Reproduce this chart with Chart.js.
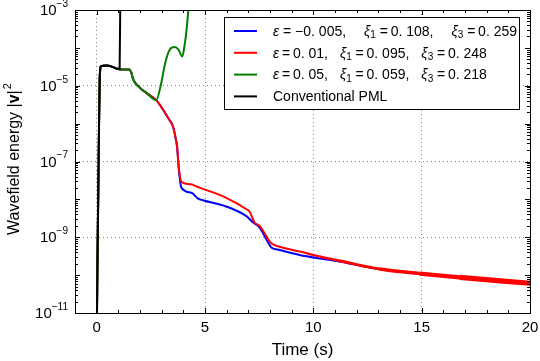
<!DOCTYPE html>
<html>
<head>
<meta charset="utf-8">
<script src="https://cdn.jsdelivr.net/npm/chart.js@4.4.0/dist/chart.umd.min.js"></script>
<style>
  html, body { margin: 0; padding: 0; background: #fff; }
  #wrap { width: 540px; height: 361px; }
</style>
</head>
<body>
<div id="wrap"><canvas id="myChart" width="540" height="361"></canvas></div>
<script>
// time (s) and wavefield energy
var tBlack = [0, 0.03, 0.07, 0.11, 0.14, 0.2, 0.45, 0.7, 0.95, 1.06, 1.1];
var eBlack = [1e-12, 1e-10, 1e-8, 1e-6, 1.5e-5, 3.3e-5, 3.4e-5, 3.2e-5, 2.8e-5, 2.8e-5, 1e-2];

var tRed = [0, 0.03, 0.07, 0.11, 0.14, 0.2, 0.45, 0.7, 0.95, 1.1, 1.52, 1.6, 1.68, 1.98, 2.29, 2.78, 3.06, 3.3, 3.52, 3.65, 3.71, 3.8, 3.91,
    4.37, 4.6, 4.9, 5.98, 6.91, 7.06, 7.29, 7.52, 7.83, 8.06, 8.45, 9.37, 10.29, 11.2, 13.06, 14.9, 16.75, 20];
var eRed = [1e-12, 1e-10, 1e-8, 1e-6, 1.5e-5, 3.3e-5, 3.4e-5, 3.2e-5, 2.8e-5, 2.7e-5, 2.7e-5, 2.2e-5, 1.5e-5, 9e-6, 6.5e-6, 4.0e-6, 2.35e-6, 1.4e-6, 8.5e-7, 4e-7, 2.5e-7, 6.2e-8, 2.9e-8,
    2.5e-8, 2.2e-8, 1.9e-8, 1.1e-8, 5.5e-9, 4.7e-9, 2.45e-9, 2.0e-9, 1.07e-9, 6.9e-10, 5.6e-10, 4.2e-10, 3.1e-10, 2.4e-10, 1.45e-10, 1.1e-10, 8.7e-11, 6.1e-11];

var tBlue = [0, 0.03, 0.07, 0.11, 0.14, 0.2, 0.45, 0.7, 0.95, 1.1, 1.52, 1.6, 1.68, 1.98, 2.29, 2.78, 3.06, 3.3, 3.52, 3.65, 3.71, 3.8, 3.91,
    4.37, 4.68, 4.9, 5.98, 6.91, 7.22, 7.52, 7.83, 8.06, 8.45, 9.37, 10.29, 11.2, 13.06, 14.9, 16.75, 20];
var eBlue = [1e-12, 1e-10, 1e-8, 1e-6, 1.5e-5, 3.3e-5, 3.4e-5, 3.2e-5, 2.8e-5, 2.7e-5, 2.7e-5, 2.2e-5, 1.5e-5, 9e-6, 6.5e-6, 4.0e-6, 2.35e-6, 1.4e-6, 8.5e-7, 4e-7, 2.5e-7, 5.5e-8, 2.04e-8,
    1.5e-8, 1.05e-8, 9.5e-9, 6.5e-9, 3.6e-9, 2.45e-9, 1.8e-9, 8.9e-10, 5.4e-10, 4.6e-10, 3.4e-10, 2.75e-10, 2.3e-10, 1.42e-10, 1.08e-10, 8.5e-11, 6.0e-11];

var tGreen = [0, 0.03, 0.07, 0.11, 0.14, 0.2, 0.45, 0.7, 0.95, 1.1, 1.52, 1.6, 1.68, 1.98, 2.29, 2.75, 2.98, 3.14, 3.37, 3.6, 3.78, 3.95, 4.06, 4.15, 4.3];
var eGreen = [1e-12, 1e-10, 1e-8, 1e-6, 1.5e-5, 3.3e-5, 3.4e-5, 3.2e-5, 2.8e-5, 2.7e-5, 2.7e-5, 2.2e-5, 1.5e-5, 8.9e-6, 6.5e-6, 4.2e-6, 1.17e-5, 3.5e-5, 8.9e-5, 1.05e-4, 8.9e-5, 5.9e-5, 1.2e-4, 3e-4, 3e-3];

var xTicks = [0, 5, 10, 15, 20];
var yTicks = [1e-11, 1e-9, 1e-7, 1e-5, 1e-3];

var legendRows = [
    [{t: "ε", it: true}, {t: " = −0. 005,"}, {gap: 18}, {t: "ξ", it: true}, {t: "1", sub: true}, {t: "\u2009=\u20090. 108,"}, {gap: 18}, {t: "ξ", it: true}, {t: "3", sub: true}, {t: "\u2009=\u20090. 259"}],
    [{t: "ε", it: true}, {t: "\u2009=\u20090. 01,"}, {gap: 12}, {t: "ξ", it: true}, {t: "1", sub: true}, {t: "\u2009=\u20090. 095,"}, {gap: 12}, {t: "ξ", it: true}, {t: "3", sub: true}, {t: "\u2009=\u20090. 248"}],
    [{t: "ε", it: true}, {t: "\u2009=\u20090. 05,"}, {gap: 12}, {t: "ξ", it: true}, {t: "1", sub: true}, {t: "\u2009=\u20090. 059,"}, {gap: 12}, {t: "ξ", it: true}, {t: "3", sub: true}, {t: "\u2009=\u20090. 218"}],
    [{t: "Conventional PML"}]
];
var legendColors = ["#0000ff", "#ff0000", "#008000", "#000000"];

var FONT = "'Liberation Sans', Arial, sans-serif";

function toPoints(ts, es) {
    return ts.map(function (t, i) { return {x: t, y: es[i]}; });
}

function drawSegments(ctx, x, y, segs, size) {
    segs.forEach(function (s) {
        if (s.gap) {
            x += s.gap;
            return;
        }
        if (s.sub) {
            ctx.font = Math.round(size * 0.7) + "px " + FONT;
            ctx.fillText(s.t, x, y + size * 0.25);
        } else {
            ctx.font = (s.it ? "italic " : "") + size + "px " + FONT;
            ctx.fillText(s.t, x, y);
        }
        x += ctx.measureText(s.t).width + (s.sub ? 1 : 0);
    });
    return x;
}

var decorPlugin = {
    id: "decor",
    afterDatasetsDraw: function (chart) {
        var ctx = chart.ctx;
        var a = chart.chartArea;
        var xs = chart.scales.x, ys = chart.scales.y;
        ctx.save();
        ctx.strokeStyle = "#000";
        ctx.lineWidth = 1;
        ctx.beginPath();
        // x ticks, inward, bottom and top
        for (var v = -1; v <= 20; v++) {
            var px = Math.round(xs.getPixelForValue(v)) + 0.5;
            var len = (v % 5 === 0) ? 5 : 3;
            ctx.moveTo(px, a.bottom); ctx.lineTo(px, a.bottom - len);
            ctx.moveTo(px, a.top); ctx.lineTo(px, a.top + len);
        }
        // y ticks, decades and 2..9 minors
        for (var p = -11; p <= -3; p++) {
            for (var m = 1; m <= 9; m++) {
                var val = m * Math.pow(10, p);
                if (val > 1e-3) break;
                var py = Math.round(ys.getPixelForValue(val)) + 0.5;
                var l2 = (m === 1) ? 5 : 3;
                ctx.moveTo(a.left, py); ctx.lineTo(a.left + l2, py);
                ctx.moveTo(a.right, py); ctx.lineTo(a.right - l2, py);
            }
        }
        ctx.stroke();
        ctx.strokeRect(Math.round(a.left) + 0.5, Math.round(a.top) + 0.5, Math.round(a.right - a.left), Math.round(a.bottom - a.top));

        // tick labels
        ctx.fillStyle = "#000";
        ctx.textBaseline = "middle";
        ctx.textAlign = "center";
        ctx.font = "15px " + FONT;
        xTicks.forEach(function (v) {
            ctx.fillText(String(v), xs.getPixelForValue(v), a.bottom + 15);
        });
        yTicks.forEach(function (v) {
            var py = ys.getPixelForValue(v);
            var ex = "−" + String(Math.round(-Math.log10(v)));
            ctx.font = "10px " + FONT;
            var w2 = ctx.measureText(ex).width;
            ctx.textAlign = "left";
            ctx.fillText(ex, a.left - 7 - w2, py - 6);
            ctx.font = "15px " + FONT;
            ctx.textAlign = "right";
            ctx.fillText("10", a.left - 7 - w2, py + 1);
        });

        // axis titles
        ctx.textAlign = "center";
        ctx.font = "17px " + FONT;
        ctx.fillText("Time (s)", (a.left + a.right) / 2, a.bottom + 37);

        ctx.save();
        ctx.translate(15, (a.top + a.bottom) / 2 - 2);
        ctx.rotate(-Math.PI / 2);
        var parts = [["Wavefield energy |", "16px "], ["v", "bold 16px "], ["|", "16px "]];
        var total = 0;
        parts.forEach(function (q) { ctx.font = q[1] + FONT; total += ctx.measureText(q[0]).width; });
        ctx.font = "11px " + FONT;
        total += ctx.measureText("2").width;
        var cx = -total / 2;
        ctx.textAlign = "left";
        parts.forEach(function (q) {
            ctx.font = q[1] + FONT;
            ctx.fillText(q[0], cx, 0);
            cx += ctx.measureText(q[0]).width;
        });
        ctx.font = "11px " + FONT;
        ctx.fillText("2", cx + 1, -7);
        ctx.restore();

        // legend box
        var lx = 224, ly = 17, lw = 295, lh = 92;
        ctx.fillStyle = "#fff";
        ctx.fillRect(lx, ly, lw, lh);
        ctx.strokeStyle = "#000";
        ctx.strokeRect(lx + 0.5, ly + 0.5, lw, lh);
        ctx.textAlign = "left";
        legendRows.forEach(function (row, i) {
            var ry = 31 + i * 21.8;
            ctx.strokeStyle = legendColors[i];
            ctx.lineWidth = 2;
            ctx.beginPath();
            ctx.moveTo(234, ry); ctx.lineTo(257, ry);
            ctx.stroke();
            ctx.fillStyle = "#000";
            drawSegments(ctx, 273, ry + 1, row, 14);
        });
        ctx.restore();
    }
};

var ctx = document.getElementById("myChart");

var chart = new Chart(ctx, {
    type: "line",
    data: {
        datasets: [
            {label: "Conventional PML", data: toPoints(tBlack, eBlack), borderColor: "#000000", order: 0},
            {label: "eps 0.05", data: toPoints(tGreen, eGreen), borderColor: "#008000", order: 1},
            {
                label: "eps 0.01", data: toPoints(tRed, eRed), borderColor: "#ff0000", order: 2,
                segment: {
                    borderWidth: function (c) { return 2 + Math.max(0, c.p0.parsed.x - 9) * 0.4; }
                }
            },
            {label: "eps -0.005", data: toPoints(tBlue, eBlue), borderColor: "#0000ff", order: 3}
        ]
    },
    options: {
        responsive: false,
        animation: false,
        devicePixelRatio: 1,
        layout: {padding: {top: 10, right: 10, left: 0, bottom: 0}},
        elements: {
            line: {borderWidth: 2, tension: 0.3, fill: false, cubicInterpolationMode: "monotone"},
            point: {radius: 0}
        },
        plugins: {legend: {display: false}, tooltip: {enabled: false}},
        scales: {
            x: {
                type: "linear", min: -1, max: 20,
                afterBuildTicks: function (s) { s.ticks = xTicks.map(function (v) { return {value: v}; }); },
                afterFit: function (s) { s.height = 48; },
                ticks: {display: false},
                grid: {color: "#888", drawTicks: false, lineWidth: 1},
                border: {display: false, dash: [1, 3]}
            },
            y: {
                type: "logarithmic", min: 1e-11, max: 1e-3,
                afterBuildTicks: function (s) { s.ticks = yTicks.map(function (v) { return {value: v}; }); },
                afterFit: function (s) { s.width = 75; },
                ticks: {display: false},
                grid: {color: "#888", drawTicks: false, lineWidth: 1},
                border: {display: false, dash: [1, 3]}
            }
        }
    },
    plugins: [decorPlugin]
});
</script>
</body>
</html>
